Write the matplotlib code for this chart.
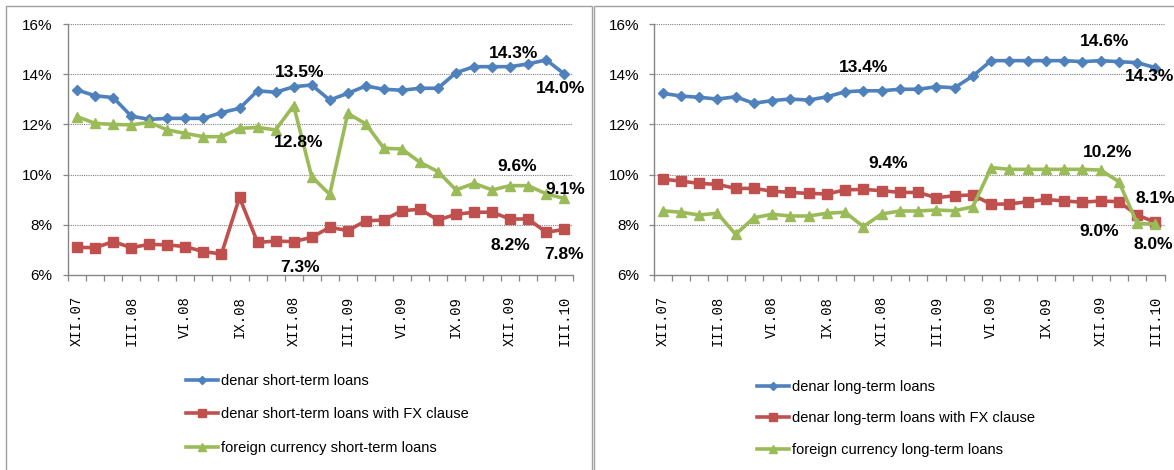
import matplotlib
matplotlib.use("Agg")
import matplotlib.pyplot as plt
from matplotlib.patches import Rectangle
from matplotlib.lines import Line2D

# ---------------- data ----------------
months = ["XII.07", "I.08", "II.08", "III.08", "IV.08", "V.08", "VI.08", "VII.08",
          "VIII.08", "IX.08", "X.08", "XI.08", "XII.08", "I.09", "II.09", "III.09",
          "IV.09", "V.09", "VI.09", "VII.09", "VIII.09", "IX.09", "X.09", "XI.09",
          "XII.09", "I.10", "II.10", "III.10"]

st_denar = [13.37, 13.14, 13.07, 12.33, 12.20, 12.24, 12.24, 12.24, 12.47, 12.64,
            13.34, 13.28, 13.50, 13.57, 12.97, 13.24, 13.53, 13.40, 13.36, 13.44,
            13.44, 14.06, 14.30, 14.30, 14.30, 14.41, 14.57, 14.01]
st_fx_clause = [7.10, 7.09, 7.33, 7.09, 7.22, 7.20, 7.13, 6.93, 6.84, 9.09,
                7.30, 7.35, 7.33, 7.50, 7.90, 7.77, 8.16, 8.19, 8.56, 8.62,
                8.19, 8.42, 8.50, 8.50, 8.23, 8.23, 7.70, 7.82]
st_foreign = [12.31, 12.04, 12.00, 11.98, 12.08, 11.78, 11.64, 11.51, 11.51, 11.84,
              11.88, 11.78, 12.75, 9.92, 9.21, 12.44, 12.02, 11.05, 11.02, 10.49,
              10.12, 9.39, 9.65, 9.39, 9.56, 9.56, 9.23, 9.05]

lt_denar = [13.24, 13.13, 13.08, 13.01, 13.10, 12.84, 12.95, 13.01, 12.97, 13.10,
            13.30, 13.34, 13.34, 13.40, 13.40, 13.50, 13.46, 13.93, 14.54, 14.54,
            14.54, 14.54, 14.54, 14.50, 14.54, 14.50, 14.46, 14.26]
lt_fx_clause = [9.82, 9.74, 9.65, 9.61, 9.45, 9.45, 9.34, 9.29, 9.25, 9.23,
                9.39, 9.41, 9.36, 9.29, 9.29, 9.08, 9.16, 9.19, 8.82, 8.83,
                8.92, 9.01, 8.95, 8.90, 8.95, 8.92, 8.39, 8.10]
lt_foreign = [8.56, 8.50, 8.39, 8.46, 7.62, 8.28, 8.42, 8.35, 8.35, 8.46,
              8.50, 7.93, 8.43, 8.55, 8.55, 8.59, 8.56, 8.72, 10.28, 10.21,
              10.21, 10.21, 10.21, 10.21, 10.18, 9.72, 8.06, 8.03]

st_labels = ["denar short-term loans", "denar short-term loans with FX clause",
             "foreign currency short-term loans"]
lt_labels = ["denar long-term loans", "denar long-term loans with FX clause",
             "foreign currency long-term loans"]

yticks = [6, 8, 10, 12, 14, 16]

# annotation texts: (text, x position, y position) in data units
st_notes = [("13.5%", 12.33, 14.05), ("12.8%", 12.3, 11.26), ("14.3%", 24.19, 14.84),
            ("14.0%", 26.8, 13.45), ("9.6%", 24.4, 10.34), ("9.1%", 27.05, 9.39),
            ("8.2%", 24.0, 7.16), ("7.8%", 26.99, 6.80), ("7.3%", 12.33, 6.28)]
lt_notes = [("13.4%", 11.0, 14.25), ("9.4%", 12.36, 10.46), ("14.6%", 24.22, 15.32),
            ("14.3%", 26.7, 13.89), ("10.2%", 24.4, 10.90), ("8.1%", 27.0, 9.03),
            ("9.0%", 23.9, 7.75), ("8.0%", 26.9, 7.20)]

# ---------------- style ----------------
W, H = 1174, 470
BLUE, RED, GREEN = "#4F81BD", "#C0504D", "#9BBB59"
SANS = ["Liberation Sans", "DejaVu Sans"]
MONO = ["Liberation Mono", "DejaVu Sans Mono"]

fig = plt.figure(figsize=(W / 100, H / 100), dpi=100)
fig.patch.set_facecolor("white")


def px(x0, y0, x1, y1):
    return [x0 / W, 1 - y1 / H, (x1 - x0) / W, (y1 - y0) / H]


# panel frames
fig.add_artist(Rectangle((6 / W, -0.05), (592 - 6) / W, 1 - 6 / H + 0.05,
                         transform=fig.transFigure, fill=False,
                         edgecolor="#a0a0a0", linewidth=1.0))
fig.add_artist(Rectangle((594 / W, -0.05), 0.6, 1 - 6 / H + 0.05,
                         transform=fig.transFigure, fill=False,
                         edgecolor="#a0a0a0", linewidth=1.0))


def draw_panel(rect, series, labels, notes, legend_xy, labelspacing, ypad):
    ax = fig.add_axes(rect)
    x = list(range(len(months)))
    styles = [(BLUE, "D", 5.5), (RED, "s", 6.5), (GREEN, "^", 7.0)]
    for vals, lab, (c, m, ms) in zip(series, labels, styles):
        ax.plot(x, vals, color=c, lw=2.6, marker=m, ms=ms, mfc=c, mec=c,
                label=lab, zorder=3)
    ax.set_xlim(-0.5, len(months) - 0.5)
    ax.set_ylim(6, 16)
    ax.set_yticks(yticks)
    ax.set_yticklabels([f"{v}%" for v in yticks], family=SANS, fontsize=11)
    ax.set_xticks(x[::3])
    ax.set_xticklabels(months[::3], rotation=90, family=MONO, fontsize=10,
                       va="top", ha="center")
    ax.set_xticks([i - 0.5 for i in range(len(months) + 1)], minor=True)
    ax.tick_params(axis="x", which="major", length=0, pad=15)
    ax.tick_params(axis="x", which="minor", length=4, width=0.9, color="#868686",
                   direction="out")
    ax.tick_params(axis="y", which="major", length=3.5, width=0.9, color="#868686",
                   direction="out", pad=ypad)
    for s in ["top", "right"]:
        ax.spines[s].set_visible(False)
    for s in ["left", "bottom"]:
        ax.spines[s].set_color("#868686")
        ax.spines[s].set_linewidth(1.0)
    for v in yticks[1:]:
        ax.axhline(v, color="#808080", lw=0.8, ls=(0, (1, 1)), zorder=1)
    for txt, tx, ty in notes:
        ax.text(tx, ty, txt, family=SANS, fontweight="bold", fontsize=12.5,
                ha="center", va="center", color="black", zorder=5, clip_on=False)
    handles = [Line2D([], [], color=c, lw=2.6, marker=m, ms=ms * 0.8, mfc=c, mec=c)
               for c, m, ms in styles]
    ax.legend(handles, labels, loc="upper left",
              bbox_to_anchor=(legend_xy[0] / W, 1 - legend_xy[1] / H),
              bbox_transform=fig.transFigure, frameon=False,
              prop={"family": SANS, "size": 10.5}, handlelength=2.2,
              handletextpad=0.2, labelspacing=labelspacing, borderpad=0,
              borderaxespad=0, numpoints=1)
    return ax


draw_panel(px(68.1, 24, 573.3, 275), [st_denar, st_fx_clause, st_foreign],
           st_labels, st_notes, (186, 374), 1.33, 8)
draw_panel(px(653.5, 24, 1164.5, 275), [lt_denar, lt_fx_clause, lt_foreign],
           lt_labels, lt_notes, (757, 380), 1.19, 7)

fig.savefig("out.png", dpi=100, facecolor="white")
